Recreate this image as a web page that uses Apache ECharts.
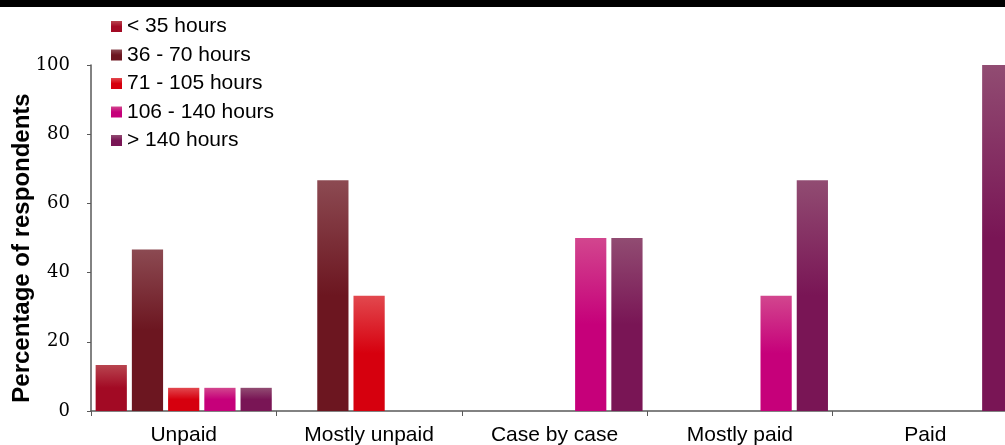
<!DOCTYPE html>
<html>
<head>
<meta charset="utf-8">
<script src="https://cdn.jsdelivr.net/npm/echarts@6/dist/echarts.min.js"></script>
<style>
  html, body { margin: 0; padding: 0; background: #fff; }
  #chart { width: 1005px; height: 445px; }
</style>
</head>
<body>
<div id="chart"></div>
<script>
const categories = ["Unpaid", "Mostly unpaid", "Case by case", "Mostly paid", "Paid"];
const seriesNames = ["< 35 hours", "36 - 70 hours", "71 - 105 hours", "106 - 140 hours", "> 140 hours"];
const under35 = [13.3, 0, 0, 0, 0];
const h36to70 = [46.7, 66.7, 0, 0, 0];
const h71to105 = [6.7, 33.3, 0, 0, 0];
const h106to140 = [6.7, 0, 50, 33.3, 0];
const over140 = [6.7, 0, 50, 66.7, 100];
const yTicks = [0, 20, 40, 60, 80, 100];

const seriesValues = [under35, h36to70, h71to105, h106to140, over140];
// top / bottom colours of each bar gradient
const colours = [
  ["#b8444f", "#a20a24"],
  ["#8c4a52", "#6c1620"],
  ["#e2484e", "#d6000e"],
  ["#d2468e", "#c6007a"],
  ["#914c72", "#791555"]
];

function grad(c) {
  return new echarts.graphic.LinearGradient(0, 0, 0, 1, [
    { offset: 0, color: c[0] },
    { offset: 0.5, color: c[1] },
    { offset: 1, color: c[1] }
  ]);
}

const chartObj = echarts.init(document.getElementById("chart"));
chartObj.setOption({
  animation: false,
  graphic: [
    { type: "rect", left: 0, top: 0, shape: { width: 1005, height: 7 }, style: { fill: "#000" } }
  ],
  legend: {
    orient: "vertical",
    left: 106,
    top: 11,
    itemWidth: 11,
    itemHeight: 11,
    itemGap: 7.5,
    icon: "rect",
    textStyle: { fontFamily: "Liberation Sans, Arial", fontSize: 21, color: "#000" },
    data: seriesNames
  },
  // plot runs past the right edge, like the original
  grid: { left: 91, top: 65, bottom: 34, width: 927, outerBoundsMode: "none", containLabel: false },
  xAxis: {
    type: "category",
    data: categories,
    axisLine: { lineStyle: { color: "#595959", width: 1.5 } },
    axisTick: { show: true, length: 5, lineStyle: { color: "#595959" } },
    axisLabel: { fontFamily: "Liberation Sans, Arial", fontSize: 21, color: "#000", margin: 14 }
  },
  yAxis: {
    type: "value",
    min: 0,
    max: 100,
    interval: 20,
    name: "Percentage of respondents",
    nameLocation: "middle",
    nameGap: 57,
    nameMoveOverlap: false,
    nameTextStyle: {
      fontFamily: "Liberation Sans, Arial", fontSize: 24, fontWeight: "bold", color: "#000",
      padding: [0, 20, 0, 0]
    },
    axisLine: { show: true, lineStyle: { color: "#595959", width: 1.5 } },
    axisTick: { show: true, length: 4, lineStyle: { color: "#595959" } },
    splitLine: { show: false },
    axisLabel: {
      fontFamily: "DejaVu Serif, Liberation Serif, serif",
      fontSize: 18,
      color: "#000",
      margin: 21,
      formatter: v => (yTicks.indexOf(v) >= 0 ? String(v) : "")
    }
  },
  series: seriesNames.map((name, i) => ({
    name: name,
    type: "bar",
    data: seriesValues[i],
    barGap: "16%",
    barCategoryGap: "5%",
    itemStyle: { color: grad(colours[i]) }
  }))
});
window.addEventListener("resize", function () {
  chartObj.resize();
});
</script>
</body>
</html>
